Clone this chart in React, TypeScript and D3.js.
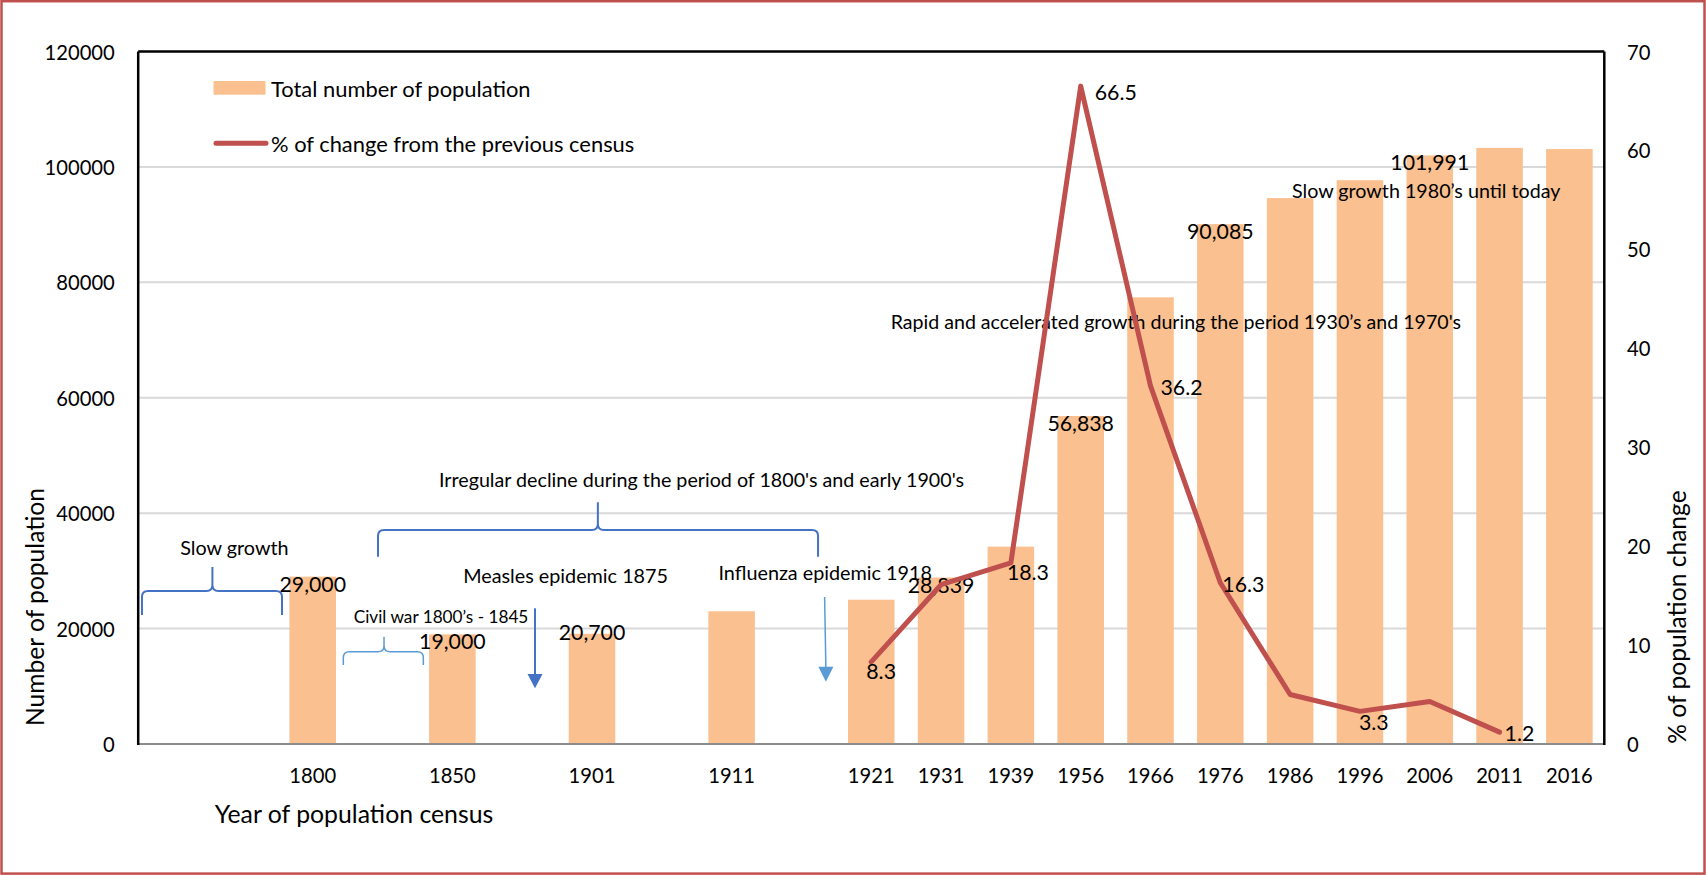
import React from "react";
import * as d3 from "d3";

// ---------- data ----------
const categories = ["", "", "1800", "", "1850", "", "1901", "", "1911", "", "1921", "1931", "1939", "1956", "1966", "1976", "1986", "1996", "2006", "2011", "2016"];
const population: (number | null)[] = [null, null, 29000, null, 19000, null, 19100, null, 23000, null, 25000, 28839, 34200, 56838, 77400, 90085, 94600, 97700, 101991, 103300, 103100];
const populationLabels: (string | null)[] = [null, null, "29,000", null, "19,000", null, "20,700", null, null, null, null, "28,839", null, "56,838", null, "90,085", null, null, "101,991", null, null];
const pctChange: (number | null)[] = [null, null, null, null, null, null, null, null, null, null, 8.3, 16.1, 18.3, 66.5, 36.2, 16.3, 5.0, 3.3, 4.3, 1.2, null];
const pctLabels: (string | null)[] = [null, null, null, null, null, null, null, null, null, null, "8.3", null, "18.3", "66.5", "36.2", "16.3", null, "3.3", null, "1.2", null];
const leftTicks = [0, 20000, 40000, 60000, 80000, 100000, 120000];
const rightTicks = [0, 10, 20, 30, 40, 50, 60, 70];

const seriesNames = ["Total number of population", "% of change from the previous census"];
const axisTitles = { x: "Year of population census", yLeft: "Number of population", yRight: "% of population change" };

// annotations, positioned in data space (category index, population value)
const braces = [
  { x1: 0.054, x2: 2.06, xm: 1.063, yb: 22350, yh: 26510, yt: 30670, light: false },
  { x1: 3.435, x2: 9.738, xm: 6.584, yb: 32460, yh: 37080, yt: 41880, light: false },
  { x1: 2.938, x2: 4.084, xm: 3.521, yb: 13690, yh: 15990, yt: 18590, light: true },
];
const arrows = [
  { x0: 5.684, x1: 5.684, from: 23510, headTop: 12130, tip: 9650, light: false },
  { x0: 9.832, x1: 9.85, from: 25470, headTop: 13390, tip: 10800, light: true },
];
const notes = [
  { text: "Slow growth", x: 1.378, y: 34190, size: 19.8 },
  { text: "Irregular decline during the period of 1800's and early 1900's", x: 8.069, y: 45920, size: 19.7 },
  { text: "Measles epidemic 1875", x: 6.122, y: 29280, size: 19.8 },
  { text: "Civil war 1800\u2019s - 1845", x: 4.338, y: 22060, size: 17.2 },
  { text: "Influenza epidemic 1918", x: 9.841, y: 29750, size: 19.8 },
  { text: "Rapid and accelerated growth during the period 1930\u2019s and 1970's", x: 14.863, y: 73180, size: 19.6 },
  { text: "Slow growth 1980\u2019s until today", x: 18.45, y: 95880, size: 19.7 },
];
const pctLabelNudge: Record<number, [number, number]> = {
  10: [-5, 9], 12: [-4, 9], 13: [14, 6], 14: [10, 1], 15: [2, 1], 17: [-1, 11], 19: [5, 1],
};

// ---------- layout ----------
const W = 1706;
const H = 875;
const PL = 138.2;
const PR = 1604.3;
const PT = 51.5;
const PB = 744;
const FONT = "Lato, 'Open Sans', sans-serif";
const BAR = "#FAC090";
const LINE = "#C0504D";
const BLUE = "#4472C4";
const LIGHTBLUE = "#5B9BD5";

export default function App() {
  const idx = categories.map((_, i) => String(i));
  const x = d3.scaleBand<string>().domain(idx).range([PL, PR]).paddingInner(1 / 3).paddingOuter(1 / 6);
  const step = x.step();
  const xc = (i: number) => (x(String(i)) as number) + x.bandwidth() / 2;
  const xf = (f: number) => PL + f * step;
  const yL = d3.scaleLinear().domain([0, 120000]).range([PB, PT]);
  const yR = d3.scaleLinear().domain([0, 70]).range([PB, PT]);

  const linePts: [number, number][] = [];
  pctChange.forEach((v, i) => {
    if (v != null) linePts.push([xc(i), yR(v)]);
  });
  const lineGen = d3.line<[number, number]>().x((d) => d[0]).y((d) => d[1]);

  const bracePath = (b: typeof braces[number]) => {
    const x1 = xf(b.x1), x2 = xf(b.x2), xm = xf(b.xm);
    const yb = yL(b.yb), yh = yL(b.yh), yt = yL(b.yt);
    const r = 6;
    return `M${x1},${yb} L${x1},${yh + r} Q${x1},${yh} ${x1 + r},${yh} L${xm - r},${yh} Q${xm},${yh} ${xm},${yh - r} L${xm},${yt} L${xm},${yh - r} Q${xm},${yh} ${xm + r},${yh} L${x2 - r},${yh} Q${x2},${yh} ${x2},${yh + r} L${x2},${yb}`;
  };

  return (
    <svg width={W} height={H} style={{ position: "absolute", left: 0, top: 0, background: "#fff" }} fontFamily={FONT}>
      <rect x={0} y={0} width={W} height={H} fill="#fff" />
      <rect x={1.5} y={1.2} width={W - 3} height={H - 2.6} fill="none" stroke={LINE} strokeWidth={2.5} />

      {/* gridlines */}
      {leftTicks.filter((t) => t > 0 && t < 120000).map((t) => (
        <line key={t} x1={PL} x2={PR} y1={yL(t)} y2={yL(t)} stroke="#D9D9D9" strokeWidth={2} />
      ))}

      {/* bars */}
      {population.map((v, i) =>
        v == null ? null : (
          <rect key={i} x={x(String(i))} y={yL(v)} width={x.bandwidth()} height={PB - yL(v)} fill={BAR} />
        )
      )}

      {/* plot frame */}
      <line x1={PL} x2={PR} y1={PB} y2={PB} stroke="#8C8C8C" strokeWidth={2} />
      <line x1={PL} x2={PR} y1={PT} y2={PT} stroke="#000" strokeWidth={2.5} />
      <line x1={PL} x2={PL} y1={PT} y2={PB + 1} stroke="#000" strokeWidth={2.5} />
      <line x1={PR} x2={PR} y1={PT} y2={PB + 1} stroke="#000" strokeWidth={2.5} />

      {/* bar labels */}
      {populationLabels.map((s, i) =>
        s == null ? null : (
          <text key={i} x={xc(i)} y={yL(+s.replace(/,/g, "")) + 7} textAnchor="middle" dominantBaseline="central" fontSize={21.3} fill="#000">
            {s}
          </text>
        )
      )}

      {/* braces, arrows, notes */}
      {braces.map((b, i) => (
        <path key={i} d={bracePath(b)} fill="none" stroke={b.light ? LIGHTBLUE : BLUE} strokeWidth={b.light ? 1.5 : 2} />
      ))}
      {arrows.map((a, i) => {
        const c = a.light ? LIGHTBLUE : BLUE;
        const xt = xf(a.x1);
        return (
          <g key={i}>
            <line x1={xf(a.x0)} x2={xt} y1={yL(a.from)} y2={yL(a.headTop) + 1} stroke={c} strokeWidth={a.light ? 1.5 : 2} />
            <path d={`M${xt - 7.5},${yL(a.headTop)} L${xt + 7.5},${yL(a.headTop)} L${xt},${yL(a.tip)} Z`} fill={c} />
          </g>
        );
      })}
      {notes.map((n, i) => (
        <text key={i} x={xf(n.x)} y={yL(n.y)} textAnchor="middle" dominantBaseline="central" fontSize={n.size} fill="#000">
          {n.text}
        </text>
      ))}

      {/* line series */}
      <path d={lineGen(linePts) || ""} fill="none" stroke={LINE} strokeWidth={5} strokeLinejoin="round" strokeLinecap="round" />
      {pctLabels.map((s, i) => {
        if (s == null || pctChange[i] == null) return null;
        const [dx, dy] = pctLabelNudge[i] || [5, 0];
        return (
          <text key={i} x={xc(i) + dx} y={yR(pctChange[i] as number) + dy} dominantBaseline="central" fontSize={21.3} fill="#000">
            {s}
          </text>
        );
      })}

      {/* left axis ticks */}
      {leftTicks.map((t) => (
        <text key={t} x={114.8} y={yL(t)} textAnchor="end" dominantBaseline="central" fontSize={20.2} fill="#000">
          {t}
        </text>
      ))}
      {/* right axis ticks */}
      {rightTicks.map((t) => (
        <text key={t} x={1627} y={yR(t)} textAnchor="start" dominantBaseline="central" fontSize={20.2} fill="#000">
          {t}
        </text>
      ))}
      {/* x ticks */}
      {categories.map((c, i) =>
        c ? (
          <text key={i} x={xc(i)} y={775} textAnchor="middle" dominantBaseline="central" fontSize={20.2} fill="#000">
            {c}
          </text>
        ) : null
      )}

      {/* axis titles */}
      <text x={354} y={813} textAnchor="middle" dominantBaseline="central" fontSize={24.8} fill="#000">
        {axisTitles.x}
      </text>
      <text transform={`translate(34,607) rotate(-90)`} textAnchor="middle" dominantBaseline="central" fontSize={24.6} fill="#000">
        {axisTitles.yLeft}
      </text>
      <text transform={`translate(1676.6,617) rotate(-90)`} textAnchor="middle" dominantBaseline="central" fontSize={24.6} fill="#000">
        {axisTitles.yRight}
      </text>

      {/* legend */}
      <rect x={213.5} y={81} width={52} height={13.7} fill={BAR} />
      <text x={271} y={88} dominantBaseline="central" fontSize={21.9} fill="#000">
        {seriesNames[0]}
      </text>
      <line x1={216} x2={266} y1={143.3} y2={143.3} stroke={LINE} strokeWidth={5} strokeLinecap="round" />
      <text x={271} y={143.3} dominantBaseline="central" fontSize={21.9} fill="#000">
        {seriesNames[1]}
      </text>
    </svg>
  );
}
